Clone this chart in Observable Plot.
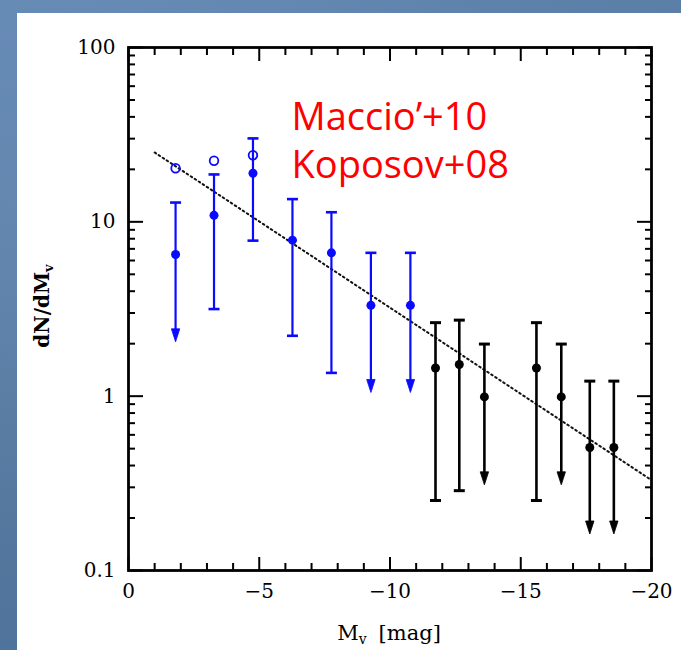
<!DOCTYPE html>
<html>
<head>
<meta charset="utf-8">
<script src="https://cdn.jsdelivr.net/npm/d3@7"></script>
<script src="https://cdn.jsdelivr.net/npm/@observablehq/plot@0.6"></script>
<style>
  html, body { margin: 0; padding: 0; }
  body {
    width: 681px; height: 650px; overflow: hidden; position: relative;
    background:
      radial-gradient(ellipse at 20% 30%, rgba(120,155,195,0.35), rgba(0,0,0,0) 60%),
      radial-gradient(ellipse at 80% 90%, rgba(40,70,110,0.35), rgba(0,0,0,0) 60%),
      linear-gradient(160deg, #6388b3 0%, #56799f 45%, #4b6e98 100%);
  }
  #panel { position: absolute; left: 17px; top: 13px; right: 0; bottom: 0; background: #fff; }
  #chart { position: absolute; left: 0; top: 0; }
  #chart svg g[aria-label$="tick label"],
  #chart svg g[aria-label$="tick label"] text {
    font-family: "DejaVu Serif", serif !important;
    font-size: 20px !important;
  }
</style>
</head>
<body>
<div id="panel"></div>
<div id="chart"></div>
<script>
// Satellite luminosity function: dN/dMv against absolute magnitude Mv

// Blue points (with upper limits shown as arrows)
const blueMag   = [-1.8, -3.27, -4.76, -6.27, -7.76, -9.27, -10.78];
const blueN     = [6.5, 10.9, 19.0, 7.85, 6.64, 3.32, 3.32];
const blueHi    = [12.9, 18.7, 30.1, 13.5, 11.35, 6.64, 6.64];
const blueLo    = [2.05, 3.16, 7.8, 2.22, 1.36, 1.05, 1.05];
const blueLimit = [true, false, false, false, false, true, true];

// Open blue circles
const openMag = [-1.8, -3.27, -4.76];
const openN   = [20.3, 22.4, 24.1];

// Black points
const blackMag   = [-11.74, -12.65, -13.61, -15.6, -16.55, -17.64, -18.56];
const blackN     = [1.45, 1.52, 0.99, 1.45, 0.99, 0.508, 0.508];
const blackHi    = [2.64, 2.73, 1.99, 2.64, 1.99, 1.22, 1.22];
const blackLo    = [0.252, 0.287, 0.31, 0.252, 0.31, 0.162, 0.162];
const blackLimit = [false, false, true, false, true, true, true];

// Dotted power-law line
const fitMag = [-1, -20];
const fitN   = [25, 0.33];

// Axes
const xTicks = [0, -5, -10, -15, -20];
const xTickLabels = ["0", "−5", "−10", "−15", "−20"];
const yTicks = [0.1, 1, 10, 100];
const yTickLabels = ["0.1", "1", "10", "100"];
const xMinor = d3.range(-1, -20, -1).filter(v => v % 5 !== 0);
const yMinor = [0.1, 1, 10].flatMap(d => d3.range(2, 10).map(k => k * d));

const legendLines = ["Maccio’+10", "Koposov+08"];

const toRows = (mag, n, hi, lo, lim) =>
  mag.map((m, i) => ({mag: m, n: n[i], hi: hi[i], lo: lo[i], limit: lim[i]}));
const blue = toRows(blueMag, blueN, blueHi, blueLo, blueLimit);
const black = toRows(blackMag, blackN, blackHi, blackLo, blackLimit);
const open = openMag.map((m, i) => ({mag: m, n: openN[i]}));
const fit = fitMag.map((m, i) => ({mag: m, n: fitN[i]}));

const BLUE = "#0a0aff";
const FONT = "DejaVu Serif";

// error-bar cap and downward arrowhead symbols
const capSymbol = {draw(ctx) { ctx.moveTo(-5.5, 0); ctx.lineTo(5.5, 0); }};
const headSymbol = {draw(ctx) { ctx.moveTo(0, 0); ctx.lineTo(-4.2, -13); ctx.lineTo(4.2, -13); ctx.closePath(); }};

function errorBars(rows, color, width) {
  const bars = rows.filter(d => !d.limit);
  const limits = rows.filter(d => d.limit);
  return [
    Plot.ruleX(bars, {x: "mag", y1: "hi", y2: "lo", stroke: color, strokeWidth: width}),
    // upper limits: the shaft stops under the arrowhead
    Plot.ruleX(limits, {x: "mag", y1: "hi", y2: "lo", stroke: color, strokeWidth: width, insetBottom: 8}),
    Plot.dot(rows, {x: "mag", y: "hi", symbol: capSymbol, stroke: color, strokeWidth: width + 0.4, fill: "none"}),
    Plot.dot(bars, {x: "mag", y: "lo", symbol: capSymbol, stroke: color, strokeWidth: width + 0.4, fill: "none"}),
    Plot.dot(limits, {x: "mag", y: "lo", symbol: headSymbol, fill: color, stroke: color, strokeWidth: 0.8}),
    Plot.dot(rows, {x: "mag", y: "n", r: 4.5, fill: color, stroke: "none"})
  ];
}

const tickOpts = {strokeWidth: 2, fill: "none", label: null};

const chart = Plot.plot({
  width: 681,
  height: 650,
  marginLeft: 128,
  marginRight: 30,
  marginTop: 47,
  marginBottom: 80,
  x: {domain: [0, -20]},
  y: {type: "log", domain: [0.1, 100]},
  style: {background: "transparent", fontFamily: FONT, fontSize: "20px", color: "black", overflow: "visible"},
  marks: [
    // inward ticks on all four sides
    Plot.axisX(xMinor, {anchor: "bottom", tickSize: -7, ...tickOpts}),
    Plot.axisX(xMinor, {anchor: "top", tickSize: -7, ...tickOpts}),
    Plot.axisX(xTicks, {anchor: "bottom", tickSize: -13, ...tickOpts}),
    Plot.axisX(xTicks, {anchor: "top", tickSize: -13, ...tickOpts}),
    Plot.axisY(yMinor, {anchor: "left", tickSize: -7, ...tickOpts}),
    Plot.axisY(yMinor, {anchor: "right", tickSize: -7, ...tickOpts}),
    Plot.axisY(yTicks, {anchor: "left", tickSize: -15, ...tickOpts}),
    Plot.axisY(yTicks, {anchor: "right", tickSize: -15, ...tickOpts}),
    // tick labels
    Plot.axisX(xTicks, {anchor: "bottom", tickSize: 0, tickPadding: 13, label: null,
      tickFormat: d => xTickLabels[xTicks.indexOf(d)]}),
    Plot.axisY(yTicks, {anchor: "left", tickSize: 0, tickPadding: 13, label: null,
      tickFormat: d => yTickLabels[yTicks.indexOf(d)]}),
    Plot.frame({stroke: "black", strokeWidth: 2.8}),
    // dotted line
    Plot.line(fit, {x: "mag", y: "n", stroke: "#111", strokeWidth: 2, strokeDasharray: "1.6 3.2"}),
    // data
    ...errorBars(blue, BLUE, 2.2),
    ...errorBars(black, "black", 2.6),
    Plot.dot(open, {x: "mag", y: "n", r: 4.3, stroke: BLUE, strokeWidth: 1.8, fill: "none"}),
    // legend text
    Plot.text([legendLines[0]], {frameAnchor: "top-left", dx: 163, dy: 70, text: d => d,
      textAnchor: "start", lineAnchor: "middle", fill: "#ff0000", fontSize: 38,
      fontFamily: "'Comic Sans MS', 'Open Sans', sans-serif"}),
    Plot.text([legendLines[1]], {frameAnchor: "top-left", dx: 163, dy: 118, text: d => d,
      textAnchor: "start", lineAnchor: "middle", fill: "#ff0000", fontSize: 38,
      fontFamily: "'Comic Sans MS', 'Open Sans', sans-serif"})
  ]
});

// axis titles with subscripts
const svg = d3.select(chart);
const xt = svg.append("text")
  .attr("x", 389).attr("y", 640)
  .attr("text-anchor", "middle")
  .style("font-family", FONT).style("font-size", "21px").attr("fill", "black");
xt.append("tspan").text("M");
xt.append("tspan").style("font-size", "14px").attr("dy", 4).text("v");
xt.append("tspan").attr("dy", -4).attr("dx", 12).text("[mag]");

const yt = svg.append("text")
  .attr("transform", "translate(49,306) rotate(-90)")
  .attr("text-anchor", "middle")
  .style("font-family", FONT).style("font-size", "20px").style("font-weight", "bold").attr("fill", "black");
yt.append("tspan").text("dN/dM");
yt.append("tspan").style("font-size", "13px").attr("dy", 4).text("v");

document.getElementById("chart").appendChild(chart);
</script>
</body>
</html>
